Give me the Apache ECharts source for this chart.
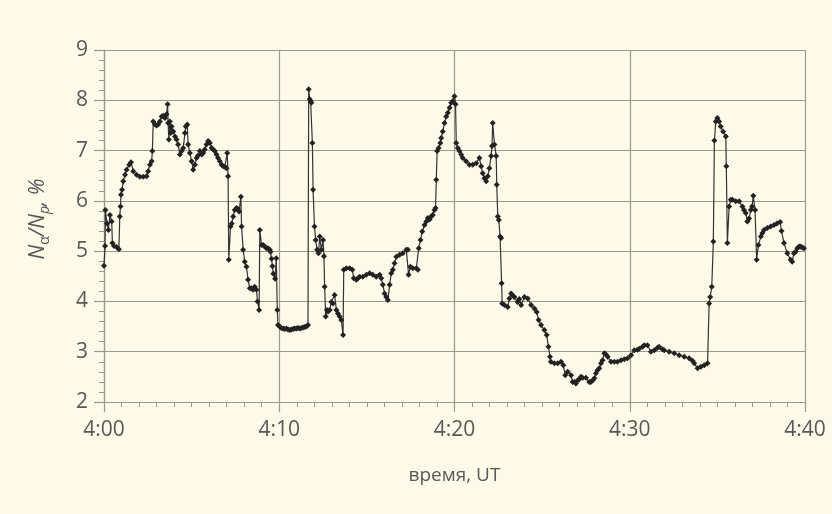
<!DOCTYPE html>
<html>
<head>
<meta charset="utf-8">
<script src="https://cdn.jsdelivr.net/npm/echarts@6/dist/echarts.min.js"></script>
<style>
  html, body { margin: 0; padding: 0; background: #fdfaea; }
  #chart { width: 832px; height: 514px; }
</style>
</head>
<body>
<div id="chart"></div>
<script>
// Time in minutes after 4:00 UT
const minutes = [
  0.00, 0.06, 0.08, 0.17, 0.25, 0.34, 0.44, 0.48, 0.57, 0.72, 0.85, 0.90, 0.94, 0.97, 1.03, 1.10, 1.20, 1.29, 1.44, 1.54,
  1.67, 1.86, 2.05, 2.24, 2.43, 2.52, 2.62, 2.72, 2.76, 2.81, 2.91, 3.00, 3.09, 3.19, 3.29, 3.38, 3.48, 3.57, 3.63, 3.66,
  3.70, 3.76, 3.80, 3.86, 3.95, 4.05, 4.14, 4.23, 4.33, 4.43, 4.52, 4.62, 4.67, 4.75, 4.80, 4.90, 5.00, 5.09, 5.19, 5.28,
  5.37, 5.47, 5.57, 5.66, 5.75, 5.85, 5.94, 6.04, 6.14, 6.23, 6.32, 6.42, 6.51, 6.61, 6.71, 6.80, 6.89, 6.99, 7.03, 7.08,
  7.12, 7.22, 7.29, 7.37, 7.46, 7.56, 7.64, 7.71, 7.81, 7.85, 7.94, 8.03, 8.13, 8.22, 8.32, 8.42, 8.51, 8.60, 8.70, 8.76,
  8.85, 8.89, 8.99, 9.08, 9.17, 9.27, 9.36, 9.46, 9.50, 9.56, 9.61, 9.66, 9.76, 9.83, 9.89, 9.93, 10.03, 10.12, 10.22, 10.31,
  10.41, 10.50, 10.60, 10.69, 10.79, 10.88, 10.98, 11.07, 11.17, 11.26, 11.36, 11.45, 11.55, 11.64, 11.68, 11.74, 11.79, 11.83, 11.89, 11.93,
  12.01, 12.08, 12.16, 12.24, 12.31, 12.40, 12.50, 12.55, 12.59, 12.65, 12.72, 12.79, 12.88, 12.97, 13.06, 13.16, 13.26, 13.35, 13.45, 13.54,
  13.64, 13.68, 13.83, 14.02, 14.17, 14.25, 14.40, 14.49, 14.59, 14.77, 14.97, 15.16, 15.34, 15.54, 15.73, 15.82, 15.91, 16.01, 16.11, 16.20,
  16.30, 16.39, 16.48, 16.58, 16.68, 16.87, 17.05, 17.25, 17.34, 17.38, 17.48, 17.62, 17.82, 17.91, 17.96, 18.06, 18.16, 18.29, 18.39, 18.48,
  18.58, 18.67, 18.76, 18.86, 18.92, 18.96, 19.01, 19.09, 19.19, 19.24, 19.33, 19.43, 19.53, 19.62, 19.72, 19.81, 19.90, 20.00, 20.06, 20.10,
  20.19, 20.28, 20.38, 20.47, 20.66, 20.85, 21.04, 21.24, 21.42, 21.52, 21.61, 21.71, 21.81, 21.90, 21.99, 22.09, 22.14, 22.18, 22.28, 22.38,
  22.41, 22.47, 22.53, 22.60, 22.66, 22.69, 22.72, 22.85, 23.04, 23.13, 23.23, 23.32, 23.42, 23.60, 23.70, 23.80, 23.99, 24.18, 24.37, 24.56,
  24.69, 24.80, 24.94, 25.13, 25.26, 25.36, 25.45, 25.50, 25.70, 25.89, 26.08, 26.21, 26.32, 26.46, 26.65, 26.74, 26.84, 26.93, 27.02, 27.12,
  27.22, 27.31, 27.50, 27.69, 27.78, 27.88, 27.98, 28.07, 28.16, 28.26, 28.36, 28.45, 28.55, 28.63, 28.74, 28.93, 29.12, 29.30, 29.50, 29.69,
  29.87, 30.07, 30.26, 30.44, 30.54, 30.73, 30.83, 31.01, 31.21, 31.40, 31.58, 31.68, 31.87, 31.97, 32.25, 32.54, 32.82, 33.11, 33.39, 33.58,
  33.68, 33.87, 34.06, 34.25, 34.44, 34.53, 34.59, 34.68, 34.77, 34.83, 34.91, 35.00, 35.10, 35.19, 35.33, 35.48, 35.51, 35.57, 35.67, 35.77,
  35.86, 36.05, 36.24, 36.43, 36.52, 36.62, 36.71, 36.81, 36.91, 36.98, 37.05, 37.15, 37.24, 37.34, 37.48, 37.57, 37.66, 37.85, 38.04, 38.23,
  38.40, 38.58, 38.66, 38.80, 38.99, 39.18, 39.27, 39.37, 39.47, 39.56, 39.66, 39.75, 39.85, 39.94
];

// Alpha-to-proton density ratio, %
const ratio = [
  4.71, 5.10, 5.82, 5.55, 5.42, 5.72, 5.59, 5.16, 5.10, 5.08, 5.04, 5.69, 5.89, 6.12, 6.22, 6.39, 6.52, 6.62, 6.72, 6.77,
  6.59, 6.52, 6.48, 6.48, 6.49, 6.59, 6.72, 6.79, 6.99, 7.58, 7.52, 7.50, 7.52, 7.58, 7.68, 7.69, 7.65, 7.72, 7.92, 7.55,
  7.22, 7.58, 7.35, 7.48, 7.38, 7.28, 7.22, 7.12, 6.92, 6.99, 7.05, 7.35, 7.48, 7.52, 7.12, 6.95, 6.79, 6.62, 6.72, 6.85,
  6.90, 6.99, 6.92, 6.95, 7.02, 7.12, 7.19, 7.15, 7.05, 7.02, 6.99, 6.92, 6.85, 6.79, 6.72, 6.69, 6.68, 6.65, 6.95, 6.49,
  4.83, 5.49, 5.55, 5.69, 5.82, 5.86, 5.84, 5.79, 6.08, 5.49, 5.03, 4.79, 4.69, 4.43, 4.26, 4.26, 4.23, 4.29, 4.23, 4.00,
  3.83, 5.42, 5.12, 5.12, 5.09, 5.06, 5.06, 5.03, 4.99, 4.85, 4.70, 4.55, 4.45, 4.86, 3.83, 3.53, 3.50, 3.47, 3.46, 3.45,
  3.46, 3.44, 3.43, 3.44, 3.45, 3.46, 3.46, 3.47, 3.46, 3.47, 3.48, 3.49, 3.50, 3.53, 8.22, 8.02, 7.98, 7.95, 7.15, 6.22,
  5.49, 5.22, 5.03, 4.96, 5.29, 5.03, 5.22, 4.90, 4.29, 3.70, 3.83, 3.80, 3.83, 3.99, 3.96, 4.13, 3.83, 3.76, 3.70, 3.63,
  3.33, 4.63, 4.66, 4.66, 4.63, 4.46, 4.43, 4.46, 4.49, 4.49, 4.53, 4.56, 4.53, 4.49, 4.53, 4.46, 4.33, 4.16, 4.09, 4.03,
  4.33, 4.56, 4.63, 4.76, 4.89, 4.93, 4.96, 5.03, 5.03, 4.53, 4.69, 4.66, 4.66, 4.63, 5.06, 5.22, 5.39, 5.52, 5.59, 5.66,
  5.63, 5.69, 5.72, 5.82, 5.86, 6.42, 6.99, 7.05, 7.15, 7.25, 7.38, 7.55, 7.68, 7.75, 7.85, 7.95, 7.98, 8.08, 7.92, 7.15,
  7.05, 6.99, 6.92, 6.85, 6.79, 6.72, 6.72, 6.75, 6.85, 6.69, 6.55, 6.45, 6.39, 6.49, 6.65, 6.89, 7.09, 7.55, 7.12, 6.89,
  6.32, 5.69, 5.62, 5.29, 5.26, 4.36, 3.96, 3.93, 3.89, 4.06, 4.16, 4.12, 4.09, 3.99, 4.05, 3.93, 4.09, 4.06, 3.93, 3.86,
  3.79, 3.63, 3.53, 3.43, 3.33, 3.10, 2.90, 2.80, 2.77, 2.77, 2.80, 2.73, 2.53, 2.60, 2.53, 2.40, 2.40, 2.37, 2.43, 2.45,
  2.50, 2.48, 2.48, 2.40, 2.40, 2.43, 2.47, 2.57, 2.63, 2.67, 2.77, 2.83, 2.97, 2.95, 2.90, 2.80, 2.80, 2.80, 2.83, 2.85,
  2.87, 2.93, 3.03, 3.04, 3.06, 3.10, 3.13, 3.13, 3.00, 3.03, 3.08, 3.10, 3.05, 3.03, 3.00, 2.97, 2.93, 2.90, 2.87, 2.82,
  2.77, 2.67, 2.70, 2.73, 2.77, 3.96, 4.09, 4.29, 5.19, 7.20, 7.58, 7.65, 7.58, 7.48, 7.38, 7.28, 6.69, 5.16, 5.89, 6.02,
  6.02, 5.99, 5.99, 5.89, 5.82, 5.76, 5.59, 5.65, 5.82, 5.89, 6.10, 5.82, 4.83, 5.12, 5.29, 5.36, 5.42, 5.46, 5.49, 5.52,
  5.55, 5.58, 5.40, 5.16, 4.96, 4.83, 4.79, 4.96, 4.99, 5.06, 5.09, 5.09, 5.07, 5.06
];

const xTickLabels = ['4:00', '4:10', '4:20', '4:30', '4:40'];
const xTitle = 'время, UT';

const seriesData = minutes.map((t, i) => [t, ratio[i]]);

const gridColor = '#9c9a8b';
const labelColor = '#585858';
const fontFamily = '"Open Sans", "Noto Sans", sans-serif';

const chart = echarts.init(document.getElementById('chart'), null, { renderer: 'canvas' });

chart.setOption({
  backgroundColor: '#fdfaea',
  animation: false,
  grid: { left: 104, right: 27, top: 50, bottom: 112, containLabel: false },
  xAxis: {
    type: 'value',
    min: 0,
    max: 40,
    interval: 10,
    name: xTitle,
    nameLocation: 'middle',
    nameGap: 64,
    nameTextStyle: { color: labelColor, fontSize: 19, fontFamily: fontFamily },
    axisLine: { show: true, lineStyle: { color: gridColor, width: 1.2 } },
    axisTick: { show: true, length: 10, lineStyle: { color: gridColor, width: 1.2 } },
    minorTick: { show: true, splitNumber: 10, length: 5, lineStyle: { color: gridColor, width: 1 } },
    axisLabel: {
      color: labelColor, fontSize: 21, fontFamily: fontFamily, margin: 18,
      formatter: v => xTickLabels[Math.round(v / 10)]
    },
    splitLine: { show: true, lineStyle: { color: gridColor, width: 1.2 } }
  },
  yAxis: {
    type: 'value',
    min: 2,
    max: 9,
    interval: 1,
    name: '{n|N}{sub|α}{n|/N}{subi|p}{n|, %}',
    nameLocation: 'middle',
    nameRotate: 90,
    nameGap: 52,
    nameTextStyle: {
      color: labelColor,
      fontFamily: fontFamily,
      padding: [0, 0, 0, 14],
      rich: {
        n: { fontSize: 21, lineHeight: 27, color: labelColor, fontFamily: fontFamily, fontStyle: 'italic', verticalAlign: 'middle' },
        sub: { fontSize: 14, lineHeight: 14, color: labelColor, fontFamily: fontFamily, verticalAlign: 'bottom' },
        subi: { fontSize: 14, lineHeight: 14, color: labelColor, fontFamily: fontFamily, fontStyle: 'italic', verticalAlign: 'bottom' }
      }
    },
    axisLine: { show: true, lineStyle: { color: gridColor, width: 1.2 } },
    axisTick: { show: true, length: 10, lineStyle: { color: gridColor, width: 1.2 } },
    minorTick: { show: true, splitNumber: 5, length: 5, lineStyle: { color: gridColor, width: 1 } },
    axisLabel: { color: labelColor, fontSize: 21, fontFamily: fontFamily, margin: 16 },
    splitLine: { show: true, lineStyle: { color: gridColor, width: 1.2 } }
  },
  series: [{
    type: 'line',
    data: seriesData,
    symbol: 'diamond',
    symbolSize: 6,
    showAllSymbol: true,
    lineStyle: { color: '#333333', width: 1.2 },
    itemStyle: { color: '#222222' },
    emphasis: { disabled: true }
  }]
});
</script>
</body>
</html>
